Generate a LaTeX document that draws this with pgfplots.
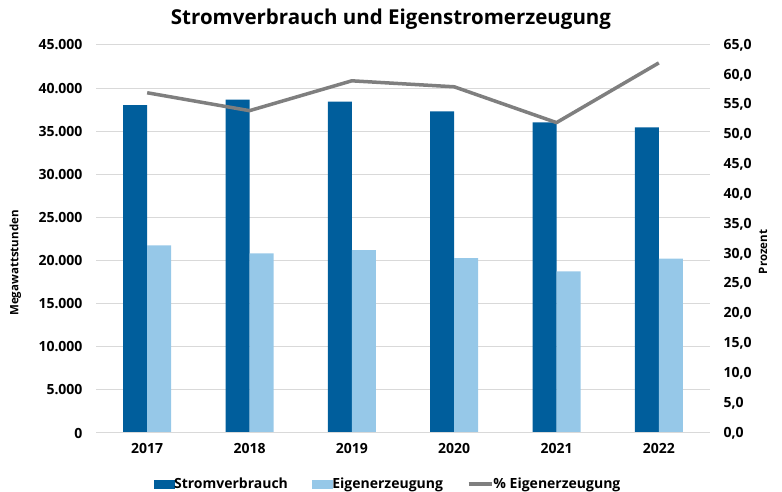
\documentclass[border=0pt]{standalone}
\usepackage{pgfplots}
\pgfplotsset{compat=1.18}
\usepackage{fontspec}
\setmainfont{Open Sans}
\definecolor{darkb}{HTML}{005E9C}
\definecolor{lightb}{HTML}{96C8E8}
\definecolor{linegray}{HTML}{7F7F7F}
\definecolor{gridgray}{HTML}{D9D9D9}
\begin{document}
\begin{tikzpicture}[x=1pt,y=1pt]
\useasboundingbox (0,0) rectangle (782,492);
\pgfplotsset{
  common/.style={
    at={(96pt,59pt)}, anchor=south west,
    width=614pt, height=388pt, scale only axis,
    xmin=-0.5, xmax=5.5,
    /pgf/number format/assume math mode=true,
    tick label style={font=\bfseries\fontsize{14}{16}\selectfont, text=black},
    major tick length=0pt,
  }
}
\begin{axis}[common,
  ymin=0, ymax=45000,
  ytick={0,5000,...,45000},
  ymajorgrids, grid style={gridgray, line width=1pt},
  axis line style={draw=none},
  xtick={0,...,5}, xticklabels={2017,2018,2019,2020,2021,2022},
  xticklabel style={yshift=-7pt},
  yticklabel style={xshift=-10pt, /pgf/number format/1000 sep={.}},
  scaled y ticks=false,
  ybar=0pt, bar width=24pt,
]
\addplot[fill=darkb, draw=none] coordinates {(0,38030) (1,38650) (2,38420) (3,37300) (4,36020) (5,35440)};
\addplot[fill=lightb, draw=none] coordinates {(0,21760) (1,20830) (2,21220) (3,20290) (4,18750) (5,20210)};
\draw[gridgray, line width=1pt] (axis cs:-0.5,0) -- (axis cs:5.5,0);
\end{axis}
\begin{axis}[common,
  ymin=0, ymax=65,
  ytick={0,5,...,65},
  axis y line*=right, axis x line=none,
  axis line style={draw=none},
  yticklabel style={xshift=10pt, /pgf/number format/.cd, fixed, fixed zerofill, precision=1, use comma},
  legend columns=3,
  legend style={at={(0.4756,-0.132)}, anchor=center, draw=none, fill=none,
    font=\bfseries\fontsize{14}{16}\selectfont,
    /tikz/every even column/.append style={column sep=22pt},
    /tikz/every odd column/.append style={column sep=-2pt}},
  legend cell align=left,
]
\addlegendimage{legend image code/.code={\fill[darkb] (0pt,-4pt) rectangle (20pt,4.5pt);}}
\addlegendentry{Stromverbrauch}
\addlegendimage{legend image code/.code={\fill[lightb] (0pt,-4pt) rectangle (20pt,4.5pt);}}
\addlegendentry{Eigenerzeugung}
\addplot[linegray, line width=3.5pt, line join=round,
  legend image code/.code={\draw[linegray, line width=3.5pt] (0pt,0pt) -- (23pt,0pt);}]
  coordinates {(0,57) (1,54) (2,59) (3,58) (4,52) (5,62)};
\addlegendentry{\% Eigenerzeugung}
\end{axis}
\node[font=\bfseries\fontsize{20.5}{24}\selectfont] at (391,473) {Stromverbrauch und Eigenstromerzeugung};
\node[font=\bfseries\fontsize{11.5}{13}\selectfont, rotate=90] at (15.5,229) {Megawattstunden};
\node[font=\bfseries\fontsize{11.5}{13}\selectfont, rotate=90] at (763,240) {Prozent};
\end{tikzpicture}
\end{document}
